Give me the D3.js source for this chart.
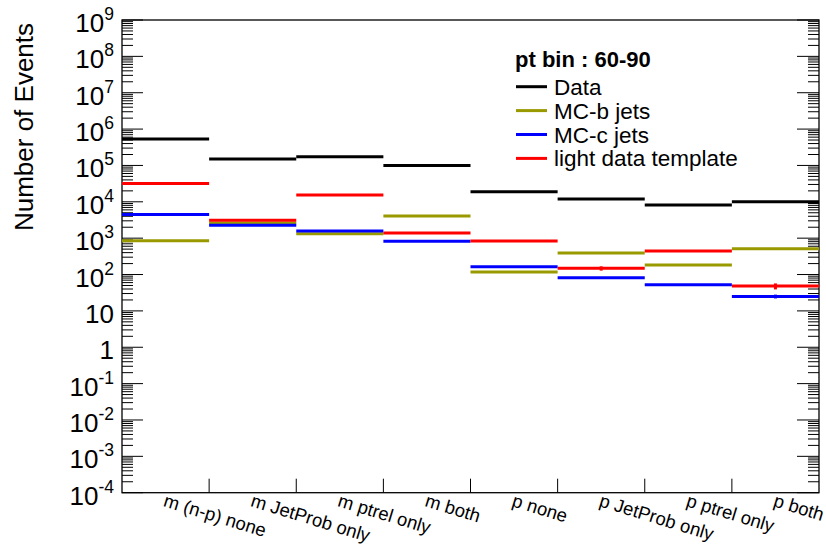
<!DOCTYPE html>
<html><head><meta charset="utf-8">
<script src="https://cdn.jsdelivr.net/npm/d3@7"></script>
<style>body{margin:0;background:#fff}svg{display:block}text{font-family:"Liberation Sans",Arial,Helvetica,sans-serif}</style>
</head><body><svg id="c" width="826" height="552"></svg>
<script>
const categories = ["m (n-p) none","m JetProb only","m ptrel only","m both","p none","p JetProb only","p ptrel only","p both"];
const dataVals  = [5.3e5, 1.5e5, 1.74e5, 9.9e4, 1.9e4, 1.19e4, 8.2e3, 1.0e4];
const mcbVals   = [850, 2600, 1330, 4100, 117, 391, 183, 513];
const mccVals   = [4500, 2260, 1570, 820, 164, 82, 52, 25];
const lightVals = [3.2e4, 3100, 1.54e4, 1390, 836, 148, 444, 48];
const lightErr  = [0, 0, 0, 0, 0, 20, 0, 9];
const mccErr    = [0, 0, 0, 0, 0, 0, 2, 3];
const seriesNames = ["Data","MC-b jets","MC-c jets","light data template"];
const legendTitle = "pt bin : 60-90";
const yTitle = "Number of Events";
const decades = d3.range(-4, 10);

const svg = d3.select("#c");
const L = 122, R = 819, T = 20, B = 492.7;
const x = d3.scaleBand().domain(categories).range([L, R]).padding(0);
const y = d3.scaleLog().domain([1e-4, 1e9]).range([B, T]);
const colors = ["#000000", "#999900", "#0000ff", "#ff0000"];

// minor/major ticks
const minor = [];
decades.slice(0, -1).forEach(k => { for (let m = 2; m <= 9; m++) minor.push(m * Math.pow(10, k)); });
const g = svg.append("g");
g.selectAll(".mnL").data(minor).join("line")
  .attr("x1", L).attr("x2", L + 11).attr("y1", d => y(d)).attr("y2", d => y(d))
  .attr("stroke", "#000").attr("stroke-width", 1);
g.selectAll(".mnR").data(minor).join("line")
  .attr("x1", R - 11).attr("x2", R).attr("y1", d => y(d)).attr("y2", d => y(d))
  .attr("stroke", "#000").attr("stroke-width", 1);
const majors = decades.map(k => Math.pow(10, k));
g.selectAll(".mjL").data(majors).join("line")
  .attr("x1", L).attr("x2", L + 21).attr("y1", d => y(d)).attr("y2", d => y(d))
  .attr("stroke", "#000").attr("stroke-width", 1);
g.selectAll(".mjR").data(majors).join("line")
  .attr("x1", R - 22).attr("x2", R).attr("y1", d => y(d)).attr("y2", d => y(d))
  .attr("stroke", "#000").attr("stroke-width", 1);

// x ticks at bin edges
g.selectAll(".xt").data(categories.slice(1)).join("line")
  .attr("x1", d => x(d)).attr("x2", d => x(d)).attr("y1", B).attr("y2", B - 14)
  .attr("stroke", "#000").attr("stroke-width", 1);

// frame
svg.append("rect").attr("x", L).attr("y", T).attr("width", R - L).attr("height", B - T)
  .attr("fill", "none").attr("stroke", "#000").attr("stroke-width", 1.3);

// y tick labels
decades.forEach(k => {
  const t = svg.append("text").attr("x", 114).attr("y", y(Math.pow(10, k)) + 12)
    .attr("text-anchor", "end").attr("font-size", 26).attr("fill", "#000");
  if (k === 0) { t.text("1"); }
  else if (k === 1) { t.text("10"); }
  else {
    t.append("tspan").text("10");
    t.append("tspan").attr("dy", -12).attr("font-size", 17.5).text(k);
  }
});

// y title
svg.append("text").attr("transform", "translate(33,127) rotate(-90)")
  .attr("text-anchor", "middle").attr("font-size", 26).text(yTitle);

// x labels
svg.selectAll(".xl").data(categories).join("text")
  .attr("transform", d => `translate(${x(d) + x.bandwidth() / 2 - 3},506) rotate(17)`)
  .attr("font-size", 18.5).text(d => d);

// series
const series = [dataVals, mcbVals, mccVals, lightVals];
const errs = [null, null, mccErr, lightErr];
series.forEach((vals, i) => {
  const sg = svg.append("g");
  sg.selectAll("line").data(vals.map((v, j) => ({v, c: categories[j]}))).join("line")
    .attr("x1", d => x(d.c)).attr("x2", d => x(d.c) + x.bandwidth())
    .attr("y1", d => y(d.v)).attr("y2", d => y(d.v))
    .attr("stroke", colors[i]).attr("stroke-width", 3);
  if (errs[i]) {
    sg.selectAll(".e").data(vals.map((v, j) => ({v, e: errs[i][j], c: categories[j]})).filter(d => d.e > 0))
      .join("line")
      .attr("x1", d => x(d.c) + x.bandwidth() / 2).attr("x2", d => x(d.c) + x.bandwidth() / 2)
      .attr("y1", d => y(d.v + d.e)).attr("y2", d => y(d.v - d.e))
      .attr("stroke", colors[i]).attr("stroke-width", 3);
  }
});

// legend
svg.append("text").attr("x", 515).attr("y", 67).attr("font-size", 22).attr("font-weight", "bold").text(legendTitle);
seriesNames.forEach((n, i) => {
  const yy = 86.7 + i * 23.9;
  svg.append("line").attr("x1", 516).attr("x2", 547).attr("y1", yy).attr("y2", yy)
    .attr("stroke", colors[i]).attr("stroke-width", 3);
  svg.append("text").attr("x", 554).attr("y", yy + 8).attr("font-size", 22.5).text(n);
});
</script></body></html>
